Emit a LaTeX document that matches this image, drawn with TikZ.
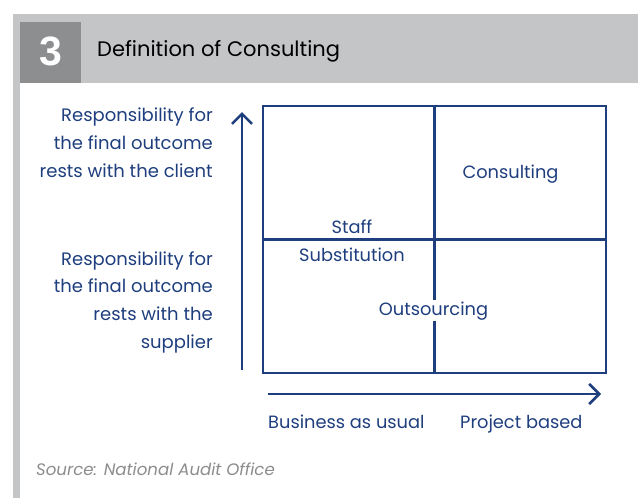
\documentclass[tikz,border=0pt]{standalone}
\usepackage{fontspec}
\setmainfont{Poppins}
\newfontfamily\numfont{Liberation Sans}
\usetikzlibrary{arrows.meta}
\definecolor{navy}{RGB}{30,62,126}
\definecolor{bandgray}{RGB}{196,197,199}
\definecolor{boxgray}{RGB}{141,142,144}
\definecolor{srcgray}{RGB}{140,140,140}
\tikzset{
  gridline/.style={draw=navy, line width=2.6pt},
  axis/.style={draw=navy, line width=2.6pt, -{Straight Barb[length=10pt,width=20pt,line width=2.6pt]}},
  celltext/.style={text=navy, font=\fontsize{17.8}{20}\selectfont, inner sep=1pt},
  sidetext/.style={text=navy, font=\fontsize{18}{27.6}\selectfont, align=right, inner sep=0pt},
}
\begin{document}
\begin{tikzpicture}[x=1pt, y=-1pt]
  \useasboundingbox (0,0) rectangle (638,498);
  % frame: header band and left rule
  \fill[bandgray] (13,14) rectangle (638,83);
  \fill[bandgray] (13,83) rectangle (20,498);
  \fill[boxgray] (20,22) rectangle (81,83);
  \node[text=white, font=\numfont\bfseries\fontsize{41}{41}\selectfont] (num) at (50.5,51) {3};
  \node[anchor=base west, inner sep=0pt, font=\fontsize{21}{24}\selectfont] (title) at (97,56) {Definition of Consulting};

  % quadrant grid
  \node[gridline, minimum width=343pt, minimum height=267pt, inner sep=0pt] (grid) at (434.5,239.5) {};
  \coordinate (mt) at (grid.north);
  \coordinate (mb) at (grid.south);
  \coordinate (ml) at (grid.west);
  \coordinate (mr) at (grid.east);
  \draw[gridline] (mt) -- (mb);
  \draw[gridline] (ml) -- (mr);

  % quadrant labels
  \node[celltext, anchor=base] (staff) at (352,233) {Staff};
  \node[celltext, anchor=base] (subst) at (352,261) {Substitution};
  \node[celltext, anchor=base] (cons) at (510.5,178) {Consulting};
  \node[celltext, anchor=base, fill=white, inner xsep=2pt] (outs) at (433.5,315) {Outsourcing};

  % axes
  \coordinate (ybot) at (242,370);
  \coordinate (ytop) at (242,112);
  \coordinate (xleft) at (268,394);
  \coordinate (xright) at (601,394);
  \draw[axis] (ybot) -- (ytop);
  \draw[axis] (xleft) -- (xright);

  % axis labels (anchored at the baseline of the last line)
  \node[sidetext, anchor=base east] (client) at (213,177) {Responsibility for\\the final outcome\\rests with the client};
  \node[sidetext, anchor=base east] (supplier) at (213,348) {Responsibility for\\the final outcome\\rests with the\\supplier};
  \node[celltext, anchor=base west, inner sep=0pt] (bau) at (268,428) {Business as usual};
  \node[celltext, anchor=base west, inner sep=0pt] (proj) at (460,428) {Project based};

  % source line
  \node[anchor=base west, inner sep=0pt, text=srcgray, font=\itshape\fontsize{16.6}{19}\selectfont] (src) at (36,475) {Source: National Audit Office};
\end{tikzpicture}
\end{document}
